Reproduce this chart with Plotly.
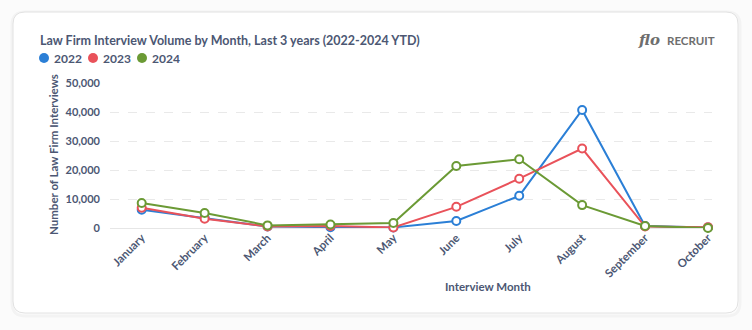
import plotly.graph_objects as go

months = ["January", "February", "March", "April", "May", "June", "July",
          "August", "September", "October"]
v2022 = [6300, 3500, 500, 300, 200, 2400, 11100, 40700, 700, 200]
v2023 = [7000, 3200, 500, 700, 200, 7300, 17000, 27400, 500, 300]
v2024 = [8600, 5200, 900, 1200, 1700, 21400, 23700, 7900, 700, 0]
series_names = ["2022", "2023", "2024"]
colors = ["#2B7FD6", "#E9525A", "#6B9A35"]
y_ticks = [0, 10000, 20000, 30000, 40000, 50000]

W, H = 752, 330
L, R, T, B = 110, 40, 83, 102
PW, PH = W - L - R, H - T - B


def px(x):
    return (x - L) / PW


def py(y):
    return (H - B - y) / PH


TXT = "#4C5773"
FONT = "Lato"

fig = go.Figure()
for name, vals, c in zip(series_names, [v2022, v2023, v2024], colors):
    fig.add_trace(go.Scatter(
        x=months, y=vals, name=name, mode="lines+markers",
        line=dict(color=c, width=2),
        marker=dict(size=8, color="white", line=dict(color=c, width=2)),
        showlegend=False, cliponaxis=False,
    ))

shapes = []


def rrect(x0, y0, x1, y1, r):
    return (f"M {px(x0+r)},{py(y0)} L {px(x1-r)},{py(y0)} "
            f"Q {px(x1)},{py(y0)} {px(x1)},{py(y0+r)} "
            f"L {px(x1)},{py(y1-r)} Q {px(x1)},{py(y1)} {px(x1-r)},{py(y1)} "
            f"L {px(x0+r)},{py(y1)} Q {px(x0)},{py(y1)} {px(x0)},{py(y1-r)} "
            f"L {px(x0)},{py(y0+r)} Q {px(x0)},{py(y0)} {px(x0+r)},{py(y0)} Z")


shapes.append(dict(type="path", xref="paper", yref="paper",
                   path=rrect(12, 12, 740, 316, 13),
                   line=dict(color="rgba(0,0,0,0.03)", width=3),
                   fillcolor="rgba(0,0,0,0)", layer="below"))
shapes.append(dict(type="path", xref="paper", yref="paper",
                   path=rrect(13, 12, 738, 313, 12),
                   line=dict(color="#E2E2E2", width=1),
                   fillcolor="white", layer="below"))

annotations = []
leg_x = [44, 93, 142]
for lx, name, c in zip(leg_x, series_names, colors):
    shapes.append(dict(type="circle", xref="paper", yref="paper",
                       xsizemode="pixel", ysizemode="pixel",
                       xanchor=px(lx), yanchor=py(58),
                       x0=-5, x1=5, y0=-5, y1=5,
                       fillcolor=c, line=dict(width=0)))
    annotations.append(dict(text=name, xref="paper", yref="paper",
                            x=px(lx + 8), y=py(58), xanchor="left", yanchor="middle",
                            showarrow=False,
                            font=dict(family=FONT, size=12, color=TXT, weight=700)))

annotations.append(dict(text="Law Firm Interview Volume by Month, Last 3 years (2022-2024 YTD)",
                        xref="paper", yref="paper", x=px(38), y=py(40),
                        xanchor="left", yanchor="middle", showarrow=False,
                        font=dict(family=FONT, size=12.5, color=TXT, weight=700)))
annotations.append(dict(text="<i><b>flo</b></i>", xref="paper", yref="paper",
                        x=px(662), y=py(40), xanchor="right", yanchor="middle",
                        showarrow=False,
                        font=dict(family="DejaVu Serif", size=15, color="#6E6E6E")))
annotations.append(dict(text="RECRUIT", xref="paper", yref="paper",
                        x=px(665), y=py(40), xanchor="left", yanchor="middle",
                        showarrow=False,
                        font=dict(family=FONT, size=11.5, color="#6E6E6E", weight=700)))
annotations.append(dict(text="Interview Month", xref="paper", yref="paper",
                        x=px(488), y=py(286), xanchor="center", yanchor="middle",
                        showarrow=False,
                        font=dict(family=FONT, size=11.5, color=TXT, weight=700)))
annotations.append(dict(text="Number of Law Firm Interviews", xref="paper", yref="paper",
                        x=px(53), y=py(155), xanchor="center", yanchor="middle",
                        textangle=-90, showarrow=False,
                        font=dict(family=FONT, size=11.5, color=TXT, weight=700)))

fig.update_layout(
    width=W, height=H,
    margin=dict(l=L, r=R, t=T, b=B),
    paper_bgcolor="#FBFBFB", plot_bgcolor="rgba(0,0,0,0)",
    shapes=shapes, annotations=annotations,
    showlegend=False,
    xaxis=dict(type="category", categoryorder="array", categoryarray=months,
               range=[-0.504, 9.064], showgrid=False, zeroline=False,
               showline=False, ticks="", tickangle=-45,
               tickfont=dict(family=FONT, size=11.5, color=TXT, weight=700)),
    yaxis=dict(range=[0, 50000], tickvals=y_ticks, tickformat=",d",
               showgrid=True, gridcolor="#E9E9E9", griddash="dash", gridwidth=1,
               zeroline=True, zerolinecolor="#E6E6E6", zerolinewidth=1,
               showline=False, ticks="", ticklabelstandoff=9,
               tickfont=dict(family=FONT, size=11, color=TXT, weight=700)),
)

fig.write_html("out.html")
